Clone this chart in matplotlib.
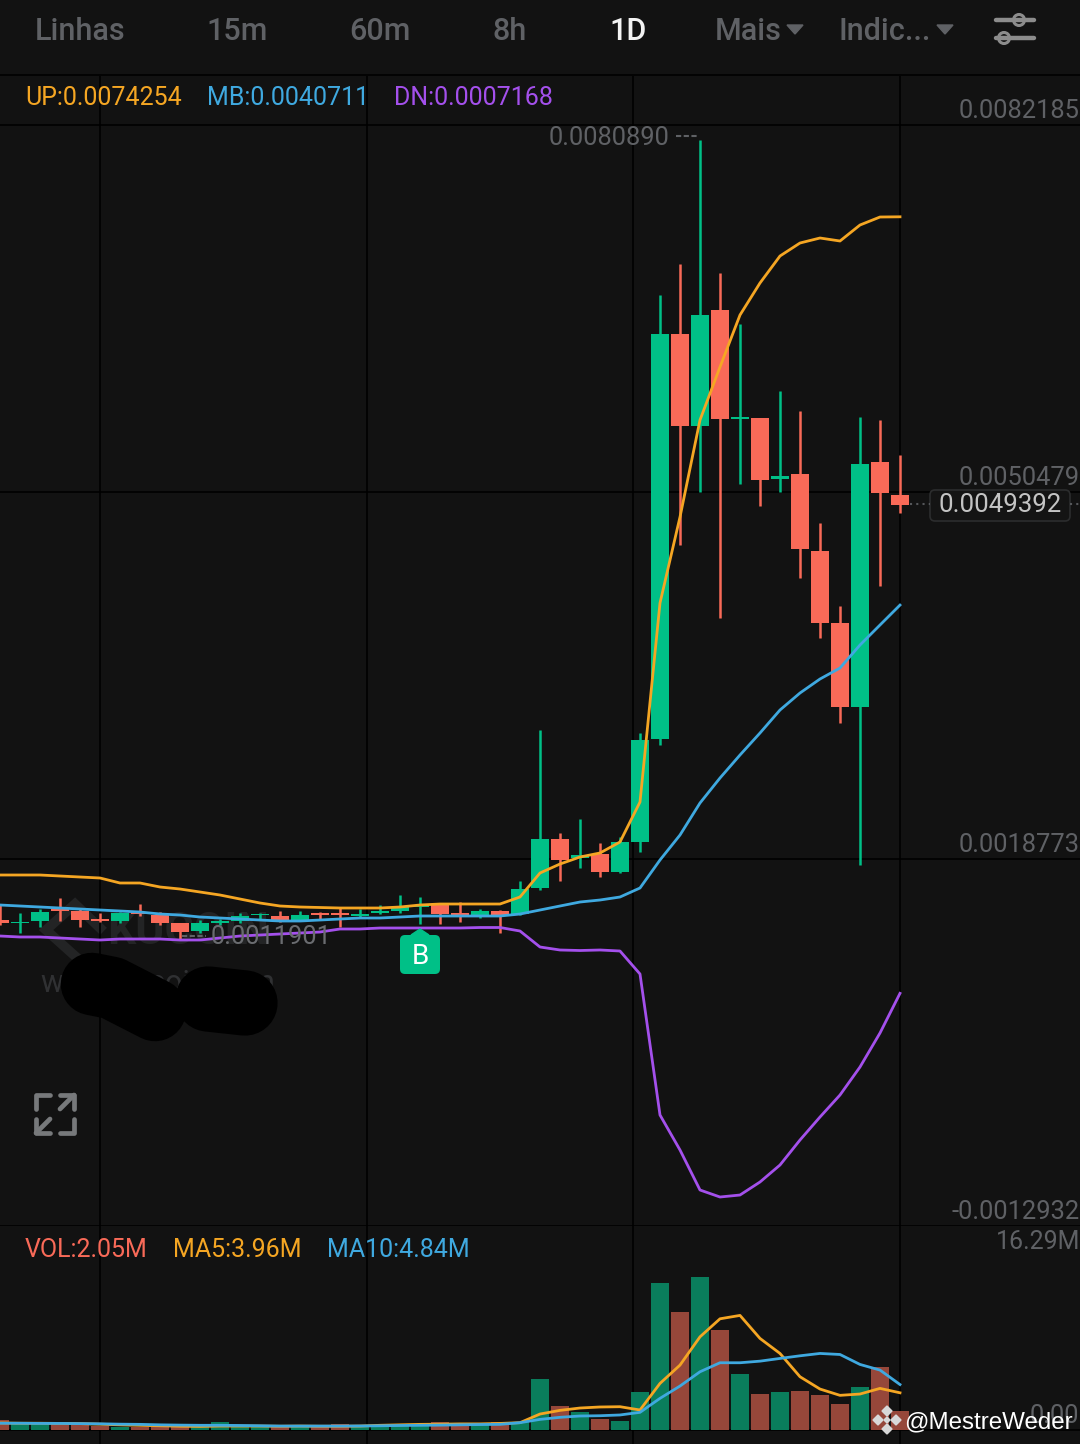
import matplotlib
matplotlib.use("Agg")
import matplotlib.pyplot as plt
from matplotlib.patches import FancyBboxPatch, Polygon, Circle

plt.rcParams["font.family"] = ["Roboto", "DejaVu Sans"]

# candles, oldest first
opens = [0.0013503, 0.0013244, 0.0013417, 0.0014453, 0.0014281, 0.0013590, 0.0013417, 0.0014194,
         0.0013935, 0.0013244, 0.0012553, 0.0013244, 0.0013417, 0.0013935, 0.0013849, 0.0013503,
         0.0014108, 0.0014108, 0.0013849, 0.0014108, 0.0014281, 0.0014626, 0.0014799, 0.0014108,
         0.0013849, 0.0014281, 0.0014021, 0.0016268, 0.0020501, 0.0018859, 0.0019205, 0.0017650,
         0.0020242, 0.0029141, 0.0064129, 0.0056181, 0.0066202, 0.0056785, 0.0056872, 0.0051602,
         0.0052034, 0.0045382, 0.0039162, 0.0031905, 0.0053071, 0.0050220]
highs = [0.0014799, 0.0014108, 0.0014453, 0.0015404, 0.0014540, 0.0014108, 0.0014194, 0.0014885,
         0.0014194, 0.0013244, 0.0013503, 0.0013590, 0.0014108, 0.0014108, 0.0014281, 0.0014281,
         0.0014194, 0.0014626, 0.0014453, 0.0014799, 0.0015663, 0.0015490, 0.0014972, 0.0015058,
         0.0014453, 0.0014367, 0.0016872, 0.0029918, 0.0021019, 0.0022229, 0.0020155, 0.0020674,
         0.0029659, 0.0067498, 0.0070176, 0.0080890, 0.0069398, 0.0064993, 0.0056872, 0.0059204,
         0.0057477, 0.0047801, 0.0040631, 0.0056958, 0.0056699, 0.0053675]
lows = [0.0013071, 0.0012380, 0.0012898, 0.0013417, 0.0012898, 0.0013330, 0.0013244, 0.0013849,
        0.0013071, 0.0011901, 0.0012380, 0.0013071, 0.0013244, 0.0013503, 0.0013330, 0.0013417,
        0.0013590, 0.0012898, 0.0013676, 0.0014021, 0.0014108, 0.0013158, 0.0013158, 0.0013330,
        0.0013676, 0.0012380, 0.0013935, 0.0016095, 0.0016872, 0.0017995, 0.0017218, 0.0017564,
        0.0019378, 0.0028622, 0.0045900, 0.0050479, 0.0039594, 0.0051170, 0.0049270, 0.0050479,
        0.0043049, 0.0037866, 0.0030523, 0.0018255, 0.0042358, 0.0048665]
closes = [0.0013244, 0.0013330, 0.0014194, 0.0014281, 0.0013503, 0.0013417, 0.0014108, 0.0014021,
          0.0013244, 0.0012466, 0.0013244, 0.0013417, 0.0013849, 0.0014021, 0.0013417, 0.0013935,
          0.0013935, 0.0013935, 0.0014021, 0.0014281, 0.0014626, 0.0014713, 0.0014021, 0.0013935,
          0.0014281, 0.0013935, 0.0016181, 0.0020501, 0.0018687, 0.0019119, 0.0017650, 0.0020242,
          0.0029054, 0.0064129, 0.0056181, 0.0065770, 0.0056785, 0.0056958, 0.0051516, 0.0051861,
          0.0045555, 0.0039162, 0.0031905, 0.0052898, 0.0050393, 0.0049392]

# bollinger bands
up = [0.0017391, 0.0017391, 0.0017391, 0.0017304, 0.0017218, 0.0017132, 0.0016700, 0.0016700,
      0.0016354, 0.0016181, 0.0015922, 0.0015663, 0.0015317, 0.0014972, 0.0014713, 0.0014626,
      0.0014583, 0.0014540, 0.0014540, 0.0014540, 0.0014626, 0.0014799, 0.0014885, 0.0014885,
      0.0014885, 0.0014885, 0.0015490, 0.0017564, 0.0018341, 0.0018946, 0.0019292, 0.0020242,
      0.0023697, 0.0040890, 0.0048319, 0.0056699, 0.0061278, 0.0065770, 0.0068535, 0.0070867,
      0.0071990, 0.0072422, 0.0072163, 0.0073545, 0.0074236, 0.0074254]
mb = [0.0014799, 0.0014713, 0.0014626, 0.0014540, 0.0014453, 0.0014367, 0.0014281, 0.0014194,
      0.0014021, 0.0013935, 0.0013762, 0.0013676, 0.0013590, 0.0013503, 0.0013417, 0.0013417,
      0.0013503, 0.0013590, 0.0013676, 0.0013676, 0.0013762, 0.0013849, 0.0013849, 0.0013849,
      0.0013849, 0.0013849, 0.0014021, 0.0014367, 0.0014713, 0.0015058, 0.0015231, 0.0015490,
      0.0016268, 0.0018687, 0.0020846, 0.0023611, 0.0025771, 0.0027758, 0.0029659, 0.0031646,
      0.0033115, 0.0034324, 0.0035274, 0.0037261, 0.0038989, 0.0040711]
dn = [0.0012121, 0.0012035, 0.0012035, 0.0011948, 0.0011862, 0.0011775, 0.0011862, 0.0011862,
      0.0011862, 0.0011775, 0.0011775, 0.0011948, 0.0012121, 0.0012207, 0.0012294, 0.0012380,
      0.0012466, 0.0012726, 0.0012726, 0.0012812, 0.0012812, 0.0012812, 0.0012812, 0.0012812,
      0.0012855, 0.0012855, 0.0012553, 0.0011171, 0.0010912, 0.0010868, 0.0010912, 0.0010825,
      0.0008838, -0.0003343, -0.0006366, -0.0009822, -0.0010427, -0.0010255, -0.0009131,
      -0.0007662, -0.0005503, -0.0003516, -0.0001615, 0.0000804, 0.0003741, 0.0007168]

# volume in millions
vol = [1.08, 0.70, 0.70, 0.70, 0.70, 0.45, 0.35, 0.30, 0.30, 0.30, 0.40, 0.85, 0.55, 0.45, 0.35, 0.40,
       0.45, 0.60, 0.45, 0.45, 0.50, 0.50, 0.85, 0.60, 0.60, 0.85, 0.80, 5.39, 2.55, 1.91, 1.14, 0.99,
       4.00, 15.60, 12.54, 16.29, 10.63, 5.98, 3.86, 4.07, 4.18, 3.75, 2.76, 4.54, 6.73, 2.05]
ma5 = [0.75, 0.72, 0.72, 0.70, 0.68, 0.62, 0.55, 0.50, 0.45, 0.40, 0.38, 0.42, 0.42, 0.42, 0.40, 0.42,
       0.40, 0.40, 0.42, 0.50, 0.55, 0.60, 0.62, 0.65, 0.65, 0.70, 0.78, 1.70, 2.09, 2.34, 2.45, 2.48,
       2.13, 4.96, 6.91, 9.92, 11.84, 12.20, 9.75, 8.15, 5.67, 4.36, 3.69, 3.83, 4.43, 3.96]
ma10 = [0.72, 0.72, 0.70, 0.70, 0.68, 0.66, 0.62, 0.60, 0.55, 0.52, 0.50, 0.50, 0.48, 0.45, 0.42, 0.42,
        0.42, 0.42, 0.43, 0.45, 0.48, 0.50, 0.52, 0.55, 0.58, 0.60, 0.78, 1.13, 1.35, 1.49, 1.52, 1.60,
        1.88, 3.37, 4.68, 6.20, 7.16, 7.16, 7.33, 7.62, 7.90, 8.15, 8.04, 6.98, 6.38, 4.84]

tabs = ["Linhas", "15m", "60m", "8h", "1D", "Mais", "Indic..."]
date_labels = ["24-10-31", "25-01-02", "25-01-02", "25-02-04"]
price_ticks = [0.0082185, 0.0050479, 0.0018773, -0.0012932]

BG = "#121212"
GREEN = "#00c087"
RED = "#f96a58"
GREEN_VOL = "#0a7d5c"
RED_VOL = "#96473a"
ORANGE = "#f5a623"
BLUE = "#3fa9e0"
PURPLE = "#a450ec"
GREY = "#5f6165"
W, H = 1080, 1444

fig = plt.figure(figsize=(W / 100, H / 100), dpi=100, facecolor=BG)

# back layer holds the exchange watermark, so the candles sit on top of it
back = fig.add_axes([0, 0, 1, 1], facecolor=BG, zorder=0)
ax = fig.add_axes([0, (H - 1226) / H, 1, (1226 - 76) / H], facecolor="none", zorder=1)
axv = fig.add_axes([0, 0, 1, (H - 1226) / H], facecolor="none", zorder=1)
ui = fig.add_axes([0, 0, 1, 1], facecolor="none", zorder=5)
for a in (back, ui):
    a.set_xlim(0, W)
    a.set_ylim(H, 0)
    a.axis("off")

xs = list(range(len(closes)))
grid_x = [5, 18.33, 31.67, 45]

for a in (ax, axv):
    a.set_xlim(0, 54)
    a.set_xticks(grid_x)
    a.tick_params(length=0, labelbottom=False, labelleft=False)
    a.grid(True, color="#000000", linewidth=1.2)
    a.set_axisbelow(True)
    for s in a.spines.values():
        s.set_visible(False)

# price scale: 0.0082185 sits at y=125 and -0.0012932 at y=1226
per_px = (0.0082185 + 0.0012932) / (1226 - 125)
ax.set_ylim(-0.0012932, 0.0082185 + 49 * per_px)
ax.set_yticks(price_ticks)

for i in xs:
    c = GREEN if closes[i] >= opens[i] else RED
    ax.vlines(i, lows[i], highs[i], color=c, linewidth=1.8, zorder=2)
    top = max(opens[i], closes[i])
    bot = min(opens[i], closes[i])
    ax.bar(i, top - bot, bottom=bot, width=0.87, color=c, zorder=3)

ax.plot(xs, up, color=ORANGE, linewidth=2.0, zorder=4)
ax.plot(xs, mb, color=BLUE, linewidth=2.0, zorder=4)
ax.plot(xs, dn, color=PURPLE, linewidth=2.0, zorder=4)

# volume panel, base at y=1430, 16.29M at y=1277
per_px_v = 16.29 / (1430 - 1277)
axv.set_ylim(-(H - 1430) * per_px_v, (1430 - 1226) * per_px_v)
axv.set_yticks([0])
bar_cols = [GREEN_VOL if closes[i] >= opens[i] else RED_VOL for i in xs]
axv.bar(xs, vol, width=0.87, color=bar_cols, zorder=3)
axv.plot(xs, ma5, color=ORANGE, linewidth=2.0, zorder=4)
axv.plot(xs, ma10, color=BLUE, linewidth=2.0, zorder=4)

# top bar
ui.plot([0, W], [75, 75], color="#000000", linewidth=1.2)
tab_x = [80, 237, 380, 510, 628, 748, 885]
for t, x in zip(tabs, tab_x):
    col = "#f2f2f2" if t == "1D" else "#5f6165"
    ui.text(x, 31, t, color=col, fontsize=22, fontweight="medium", ha="center", va="center")
ui.add_patch(Polygon([(787, 25), (803, 25), (795, 34)], closed=True, color="#5f6165"))
ui.add_patch(Polygon([(937, 25), (953, 25), (945, 34)], closed=True, color="#5f6165"))

# slider icon
ui.plot([996, 1034], [20, 20], color="#8c8c8c", linewidth=3.2, solid_capstyle="round")
ui.plot([996, 1034], [38, 38], color="#8c8c8c", linewidth=3.2, solid_capstyle="round")
for cx, cy in [(1019, 20), (1004, 38)]:
    ui.add_patch(Circle((cx, cy), 5.5, facecolor=BG, edgecolor="#8c8c8c", linewidth=2.2))

# legends
ui.text(25, 98, "UP:0.0074254", color=ORANGE, fontsize=18, va="center")
ui.text(207, 98, "MB:0.0040711", color=BLUE, fontsize=18, va="center")
ui.text(394, 98, "DN:0.0007168", color=PURPLE, fontsize=18, va="center")
ui.text(25, 1250, "VOL:2.05M", color=RED, fontsize=18, va="center")
ui.text(173, 1250, "MA5:3.96M", color=ORANGE, fontsize=18, va="center")
ui.text(327, 1250, "MA10:4.84M", color=BLUE, fontsize=18, va="center")

# axis labels
for y, t in [(111, "0.0082185"), (478, "0.0050479"), (845, "0.0018773"), (1212, "-0.0012932")]:
    ui.text(1080, y, t, color=GREY, fontsize=18.4, ha="right", va="center")
ui.text(1080, 1242, "16.29M", color=GREY, fontsize=18, ha="right", va="center")
ui.text(1030, 1416, "0.00", color=GREY, fontsize=18.4, ha="left", va="center")
for lbl, x in zip(date_labels, [100, 366, 633, 900]):
    ui.text(x, 1457, lbl, color=GREY, fontsize=18.4, ha="center", va="center")

# max / min price labels
ui.text(669, 138, "0.0080890", color=GREY, fontsize=18.4, ha="right", va="center")
ui.plot([676, 699], [136, 136], color=GREY, linewidth=1.5, linestyle=(0, (2.5, 1.2)))
ui.text(211, 937, "0.0011901", color="#6a6c70", fontsize=18.4, ha="left", va="center")
ui.plot([182, 206], [936, 936], color=GREY, linewidth=1.5, linestyle=(0, (2.5, 1.2)))

# exchange watermark, partly under the candles
wm = "#232425"
back.plot([75, 46, 75, 100], [956, 930, 904, 928], color=wm, linewidth=7, solid_joinstyle="miter")
back.text(107, 932, "KUCOIN", color=wm, fontsize=32, fontweight="bold", ha="left", va="center")
back.text(40, 983, "www.kucoin.com", color="#303133", fontsize=22, ha="left", va="center")

# scribble over the watermark
ui.plot([92, 112, 155], [984, 988, 1010], color="#000000", linewidth=45,
        solid_capstyle="round", solid_joinstyle="round", zorder=1)
ui.plot([208, 245], [999, 1003], color="#000000", linewidth=47,
        solid_capstyle="round", zorder=1)

# buy badge
ui.add_patch(FancyBboxPatch((400, 935), 40, 39, boxstyle="round,pad=0,rounding_size=5",
                            facecolor=GREEN, edgecolor="none"))
ui.add_patch(Polygon([(411, 935), (429, 935), (420, 929)], closed=True, color=GREEN))
ui.text(420, 956, "B", color="#ffffff", fontsize=20, ha="center", va="center")

# expand icon
icon = "#77797b"
for xx, yy in [([36, 36, 50], [1109, 1095, 1095]), ([60, 74, 74], [1095, 1095, 1109]),
               ([36, 36, 50], [1119, 1133, 1133]), ([60, 74, 74], [1133, 1133, 1119]),
               ([60, 74], [1109, 1095]), ([36, 50], [1133, 1119])]:
    ui.plot(xx, yy, color=icon, linewidth=3.4, solid_capstyle="round", solid_joinstyle="round")

# last price tag
ui.plot([910, 930], [504, 504], color="#55575a", linewidth=1.5, linestyle=(0, (1, 2)))
ui.plot([1070, 1080], [504, 504], color="#55575a", linewidth=1.5, linestyle=(0, (1, 2)))
ui.add_patch(FancyBboxPatch((930, 490), 140, 31, boxstyle="round,pad=0,rounding_size=5",
                            facecolor="#141414", edgecolor="#2c2d2e", linewidth=1.2))
ui.text(1000, 505, "0.0049392", color="#c4c4c4", fontsize=18.6, ha="center", va="center")

# logo and handle of the video app
for cx, cy in [(887, 1411), (887, 1429), (878, 1420), (896, 1420)]:
    ui.add_patch(Polygon([(cx - 5, cy), (cx, cy - 5), (cx + 5, cy), (cx, cy + 5)], closed=True, color="#d8d8d8"))
ui.add_patch(Polygon([(884, 1420), (887, 1417), (890, 1420), (887, 1423)], closed=True, color="#d8d8d8"))
ui.text(904, 1422, "@MestreWeder", color="#ffffff", fontsize=17.4, family="Liberation Sans", ha="left", va="center")

fig.savefig("out.png", dpi=100, facecolor=BG)
